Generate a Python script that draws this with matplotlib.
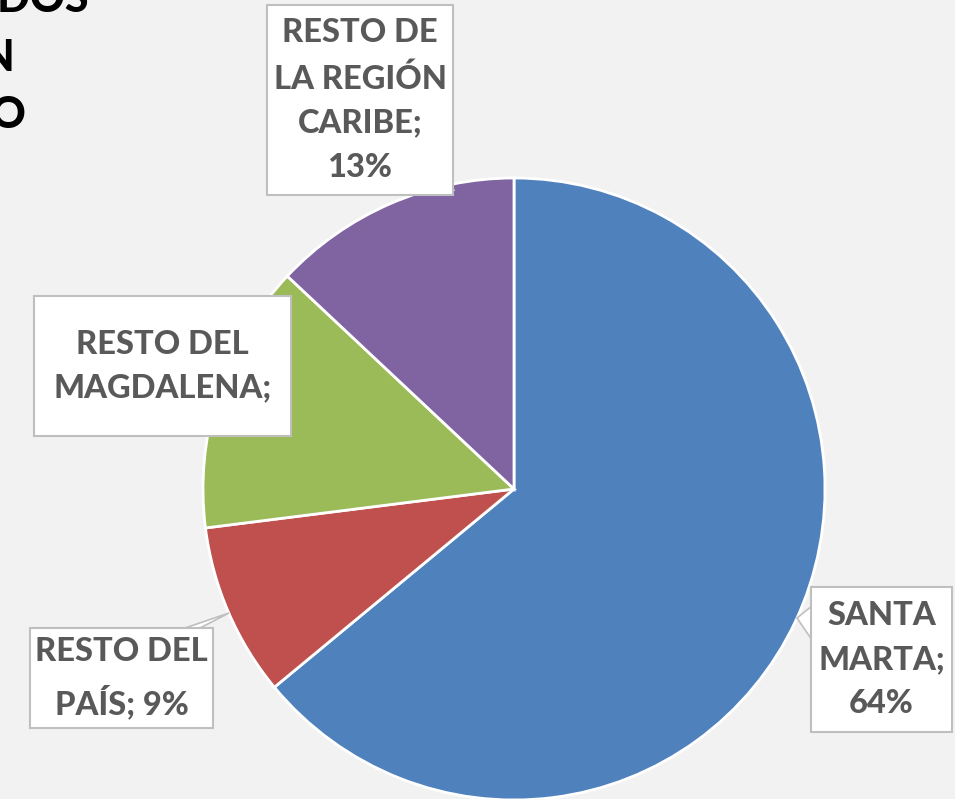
import matplotlib.pyplot as plt
from matplotlib.patches import Rectangle, Polygon

# data
labels = ["SANTA MARTA", "RESTO DEL PAÍS", "RESTO DEL MAGDALENA", "RESTO DE LA REGIÓN CARIBE"]
values = [64, 9, 14, 13]
colors = ["#4F81BD", "#C0504D", "#9BBB59", "#8064A2"]
box_texts = ["SANTA\nMARTA;\n64%", "RESTO DEL\nPAÍS; 9%", "RESTO DEL\nMAGDALENA;", "RESTO DE\nLA REGIÓN\nCARIBE;\n13%"]

W, H = 955, 799
BG = "#F2F2F2"
TXT = "#595959"
FONT = ["Lato", "DejaVu Sans"]

def Y(y):
    # image pixel row -> axis y
    return H - y

fig = plt.figure(figsize=(W / 100, H / 100), dpi=100, facecolor=BG)
ax = fig.add_axes([0, 0, 1, 1])
ax.set_facecolor(BG)

ax.pie(values, colors=colors, startangle=90, counterclock=False,
       center=(514, Y(489)), radius=311,
       wedgeprops=dict(edgecolor="white", linewidth=2))

# pie() sets its own limits, so put ours back afterwards
ax.set_xlim(0, W)
ax.set_ylim(0, H)
ax.set_aspect("equal")
ax.axis("off")

# label boxes (x0, y0, x1, y1) in image pixels
boxes = [(811, 587, 952, 732), (30, 628, 213, 728), (34, 296, 291, 436), (267, 5, 453, 195)]
# callout pointers
pointers = [
    [(812, 606), (797, 618), (812, 640)],
    [(185, 628), (229, 613), (200, 628)],
    [(415, 195), (455, 190), (440, 195)],
]
for pts in pointers:
    ax.add_patch(Polygon([(x, Y(y)) for x, y in pts], closed=True, facecolor="white",
                         edgecolor="#BFBFBF", linewidth=1.2, zorder=4))

for (x0, y0, x1, y1), t in zip(boxes, box_texts):
    ax.add_patch(Rectangle((x0, Y(y1)), x1 - x0, y1 - y0, facecolor="white",
                           edgecolor="#BFBFBF", linewidth=1.5, zorder=5))
    ax.text((x0 + x1) / 2, Y((y0 + y1) / 2), t, ha="center", va="center",
            fontsize=23.5, fontweight="black", color=TXT, family=FONT,
            linespacing=1.62, zorder=6)

# title, cut off at the left edge
for s, x, y in [("EGRESADOS", 89, -1), ("UBICACIÓN", 15, 57), ("GEOGRÁFICO", 26, 115)]:
    ax.text(x, Y(y), s, ha="right", va="center", fontsize=31, fontweight="black",
            color="black", family=FONT)

fig.savefig("out.png", dpi=100, facecolor=BG)
